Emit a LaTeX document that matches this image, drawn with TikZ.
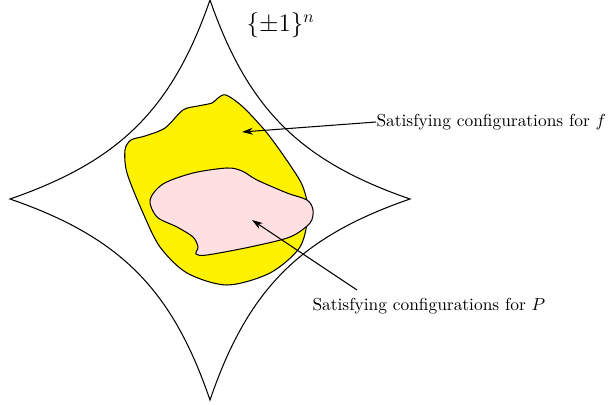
\documentclass[tikz,border=0pt]{standalone}
\usepackage{amsmath, amssymb}
\usetikzlibrary{arrows.meta}

\begin{document}
\begin{tikzpicture}[
  x=0.575pt, y=-0.575pt, semithick,
  region/.style={draw},
  pointer/.style={-{Stealth[length=2.2mm, width=1.4mm]}},
  note/.style={inner sep=0pt, anchor=west}
]
\useasboundingbox (0,0) rectangle (608,404);

% the cube, drawn as a star
\coordinate (top) at (210,0);
\coordinate (right) at (410,199);
\coordinate (bottom) at (210,400);
\coordinate (left) at (10,199);
\draw (top) .. controls (248,109) and (300,161) .. (right)
      .. controls (300,237) and (248,289) .. (bottom)
      .. controls (172,289) and (120,237) .. (left)
      .. controls (120,161) and (172,109) .. (top);
\node[note] (cube) at (246,25) {\Large $\{\pm1\}^n$};

% satisfying configurations for f
\draw[region, fill=yellow] plot[smooth cycle] coordinates {
  (226,95) (218,98) (212,103) (198,106) (183,110) (165,128) (145,136)
  (131,140) (125,150) (127,173) (143,213) (160,247) (187,273) (227,285)
  (270,273) (300,247) (308,213) (303,187) (290,165) (267,133) (243,107)};

% satisfying configurations for P
\draw[region, fill=pink!50] plot[smooth cycle] coordinates {
  (227,168) (193,173) (163,184) (150,200) (157,217) (177,227) (193,237)
  (198,247) (196,254) (207,255) (250,247) (290,237) (310,223) (313,210)
  (307,200) (287,193) (257,180) (242,171)};

\coordinate (inf) at (242,132);
\coordinate (inP) at (252,220);
\coordinate (tail) at (357,290);
\node[note] (forf) at (376,122) {Satisfying configurations for $f$};
\node[note] (forP) at (312,306) {Satisfying configurations for $P$};
\draw[pointer] (forf.west) -- (inf);
\draw[pointer] (tail) -- (inP);
\end{tikzpicture}
\end{document}
